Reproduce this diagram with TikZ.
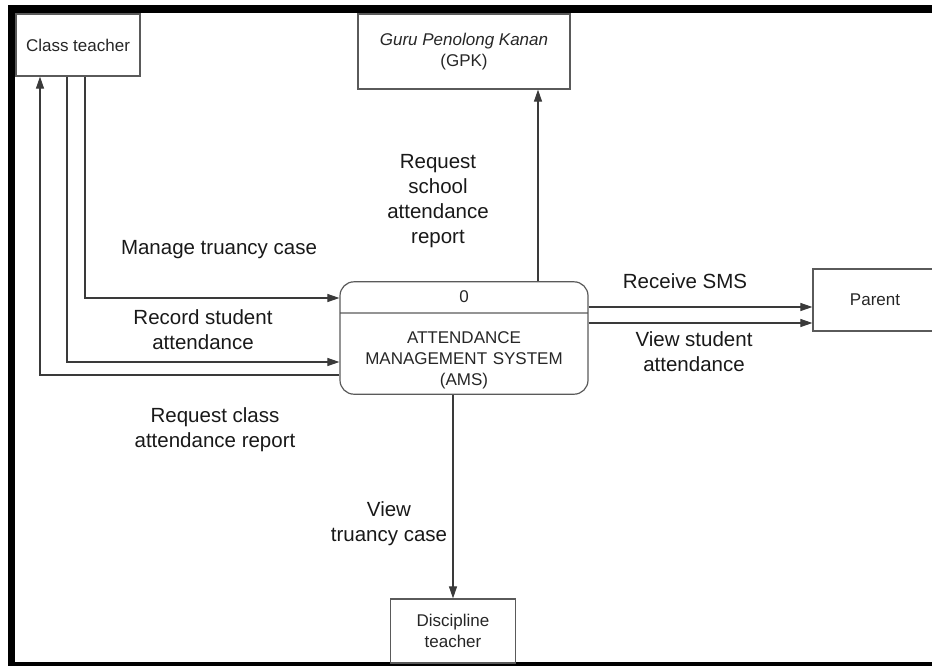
\documentclass[tikz,border=0pt]{standalone}
\usepackage{fontspec}
\setmainfont{Liberation Sans}
\usetikzlibrary{arrows.meta,shapes.multipart}
\definecolor{boxgray}{HTML}{5A5A5A}
\definecolor{linegray}{HTML}{3A3A3A}
\tikzset{
  entity/.style={draw=boxgray,line width=1.2pt,align=center,inner sep=2pt,text=black!85,font=\fontsize{17}{21}\selectfont},
  process/.style={rectangle split,rectangle split parts=2,draw=boxgray,line width=1.2pt,rounded corners=14pt,
    text width=236pt,align=center,inner xsep=6pt,inner ysep=0pt,text=black!85,font=\fontsize{17}{21}\selectfont},
  flow/.style={draw=linegray,line width=1.1pt,-{Triangle[length=12pt,width=8pt]}},
  lbl/.style={align=center,inner sep=0pt,text=black!90,font=\fontsize{20.5}{25}\selectfont}
}
\begin{document}
\begin{tikzpicture}[x=1pt,y=-1pt]
\useasboundingbox (0,0) rectangle (932,665);
\clip (0,0) rectangle (932,665);
\draw[line width=7.5pt] (940,9) -- (11.5,9) -- (11.5,666) -- (940,666);

\node[entity,minimum width=124pt,minimum height=62pt] (teacher) at (78,45) {Class teacher};
\node[entity,minimum width=212pt,minimum height=75pt] (gpk) at (464,51.5) {\textit{Guru Penolong Kanan}\\(GPK)};
\node[entity,minimum width=124pt,minimum height=62pt] (parent) at (875,300) {Parent};
\node[entity,minimum width=125pt,minimum height=64pt] (discipline) at (453,631) {Discipline\\teacher};
\node[process] (ams) at (464,338) {\rule[-10pt]{0pt}{30pt}0\nodepart{second}\rule{0pt}{30pt}ATTENDANCE\\MANAGEMENT SYSTEM\\(AMS)\rule[-8pt]{0pt}{8pt}};

\draw[flow] ([xshift=7pt]teacher.south) |- ([yshift=40pt]ams.west);
\draw[flow] ([xshift=-11pt]teacher.south) |- ([yshift=-24pt]ams.west);
\draw[flow] ([yshift=-37pt]ams.west) -| ([xshift=-38pt]teacher.south);
\draw[flow] ([xshift=74pt]ams.north) -- ([xshift=74pt]gpk.south);
\draw[flow] ([yshift=31pt]ams.east) -- ([yshift=-7pt]parent.west);
\draw[flow] ([yshift=15pt]ams.east) -- ([yshift=-23pt]parent.west);
\draw[flow] ([xshift=-11pt]ams.south) -- (discipline.north);

\node[lbl] (lmanage) at (219,250) {Manage truancy case};
\node[lbl] (lrecord) at (203,330) {Record student\\attendance};
\node[lbl] (lreqclass) at (215,430) {Request class\\attendance report};
\node[lbl] (lreqschool) at (438,201) {Request\\school\\attendance\\report};
\node[lbl] (lsms) at (685,281) {Receive SMS};
\node[lbl] (lview) at (694,352) {View student\\attendance};
\node[lbl] (ltruancy) at (389,524) {View\\truancy case};
\end{tikzpicture}
\end{document}
